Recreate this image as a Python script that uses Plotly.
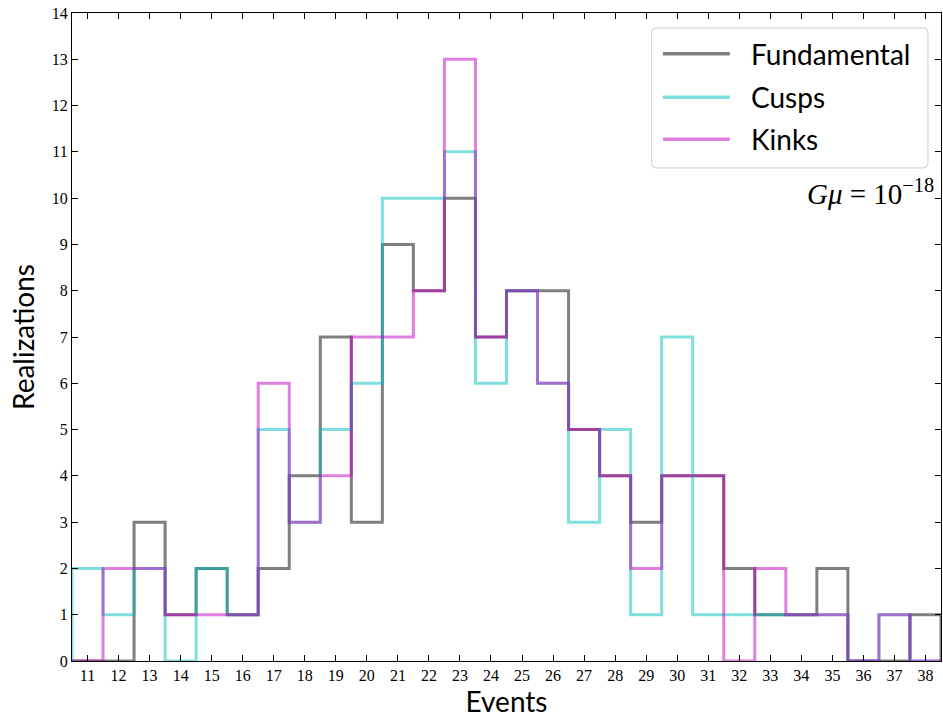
import plotly.graph_objects as go

# Histogram counts per event-count bin (bin centres 11..38)
events = list(range(11, 39))
fundamental = [0, 0, 3, 1, 2, 1, 2, 4, 7, 3, 9, 8, 10, 7, 8, 8, 5, 4, 3, 4, 4, 2, 1, 1, 2, 0, 0, 1]
cusps = [2, 1, 2, 0, 2, 1, 5, 3, 5, 6, 10, 10, 11, 6, 8, 6, 3, 5, 1, 7, 1, 1, 1, 1, 1, 0, 1, 0]
kinks = [0, 2, 2, 1, 1, 1, 6, 3, 4, 7, 7, 8, 13, 7, 8, 6, 5, 4, 2, 4, 4, 0, 2, 1, 1, 0, 1, 0]

series_names = ["Fundamental", "Cusps", "Kinks"]
series_counts = [fundamental, cusps, kinks]
series_colors = ["rgba(0,0,0,0.5)", "rgba(0,191,191,0.5)", "rgba(191,0,191,0.5)"]

LABEL_FONT = "Lato"
TICK_FONT = "Liberation Serif"


def step_outline(centres, counts):
    """Outline of a step histogram: rises at the first edge, falls at the last."""
    left = [c - 0.5 for c in centres]
    right_edge = centres[-1] + 0.5
    xs = [left[0]] + left + [right_edge]
    ys = [0] + list(counts) + [0]
    return xs, ys


fig = go.Figure()
for name, counts, color in zip(series_names, series_counts, series_colors):
    xs, ys = step_outline(events, counts)
    fig.add_trace(go.Scatter(
        x=xs, y=ys, mode="lines", name=name,
        line=dict(color=color, width=3, shape="hv"),
        showlegend=False,
    ))

tick_font = dict(family=TICK_FONT, size=16, color="black")
axis_common = dict(
    showline=True, linecolor="black", linewidth=1.3, mirror="ticks",
    ticks="inside", ticklen=6, tickwidth=1.2, tickcolor="black",
    showgrid=False, zeroline=False, tickfont=tick_font,
)

fig.update_layout(
    width=943, height=722,
    margin=dict(l=72, r=2, t=13, b=61),
    paper_bgcolor="white", plot_bgcolor="white",
    xaxis=dict(range=[events[0] - 0.5, events[-1] + 0.5], tickvals=events,
               title=dict(text="Events", font=dict(family=LABEL_FONT, size=28, color="black"), standoff=7),
               **axis_common),
    yaxis=dict(range=[0, 14], dtick=1, tick0=0,
               title=dict(text="Realizations", font=dict(family=LABEL_FONT, size=28, color="black"), standoff=8),
               **axis_common),
    showlegend=False,
)

# Legend panel (rounded box, line samples and labels) in plot-area paper coordinates
bx0, bx1, by0, by1 = 0.667, 0.985, 0.761, 0.977
rx, ry = 0.006, 0.008
box_path = (
    f"M{bx0 + rx},{by1} L{bx1 - rx},{by1} Q{bx1},{by1} {bx1},{by1 - ry} "
    f"L{bx1},{by0 + ry} Q{bx1},{by0} {bx1 - rx},{by0} "
    f"L{bx0 + rx},{by0} Q{bx0},{by0} {bx0},{by0 + ry} "
    f"L{bx0},{by1 - ry} Q{bx0},{by1} {bx0 + rx},{by1} Z"
)
fig.add_shape(type="path", path=box_path, xref="paper", yref="paper",
              line=dict(color="#d6d6d6", width=1.2), fillcolor="rgba(255,255,255,0.85)", layer="above")

row_y = [0.937, 0.870, 0.805]
for name, color, yy in zip(series_names, series_colors, row_y):
    fig.add_shape(type="line", xref="paper", yref="paper",
                  x0=0.680, x1=0.757, y0=yy, y1=yy,
                  line=dict(color=color, width=3.5), layer="above")
    fig.add_annotation(xref="paper", yref="paper", x=0.779, y=yy,
                       xanchor="left", yanchor="middle", text=name, showarrow=False,
                       font=dict(family=LABEL_FONT, size=28, color="black"))

fig.add_annotation(
    xref="paper", yref="paper", x=0.994, y=0.724, xanchor="right", yanchor="middle",
    text="<i>Gμ</i> = 10<sup>−18</sup>", showarrow=False,
    font=dict(family=TICK_FONT, size=29, color="black"),
)

fig.write_html("out.html")
